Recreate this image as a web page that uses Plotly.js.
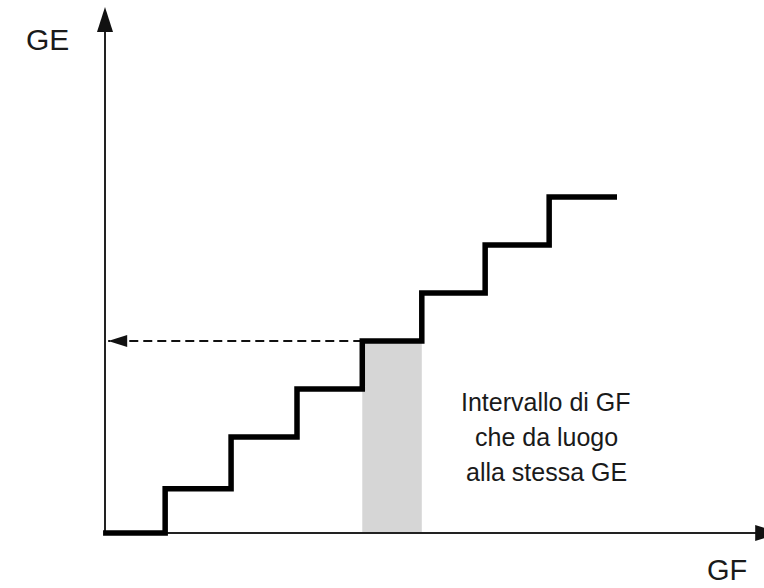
<!DOCTYPE html>
<html>
<head>
<meta charset="utf-8">
<script src="https://cdn.plot.ly/plotly-3.0.1.min.js"></script>
<style>
  html, body { margin: 0; padding: 0; background: #ffffff; }
  #chart { width: 764px; height: 588px; }
</style>
</head>
<body>
<div id="chart"></div>
<script>
// ---- data (arbitrary units) ----
const gfSteps  = [-0.03, 0.94, 1.97, 3.0, 4.02, 4.95, 5.94, 6.94, 8.0];   // GF breakpoints of the staircase
const geLevels = [0, 0.92, 2.0, 3.0, 4.0, 5.0, 6.0, 7.0, 7.0];            // GE level on each step
const highlightStep = 4;          // step whose GF interval is shaded
const gfAxisEnd = 10.55;          // tip of GF axis arrow
const geAxisEnd = 10.96;          // tip of GE axis arrow
const dashedArrowTip = 0.05;      // where the dashed read-off arrow ends on the GE axis
const axisLabels = ["GE", "GF"];
const noteLines = ["Intervallo di GF", "che da luogo", "alla stessa GE"];

// ---- build ----
const ink = "#111111";
const hiGF0 = gfSteps[highlightStep];
const hiGF1 = gfSteps[highlightStep + 1];
const hiGE  = geLevels[highlightStep];

const traces = [
  { // dashed read-off line
    x: [hiGF0, dashedArrowTip], y: [hiGE, hiGE],
    mode: "lines", line: { color: ink, width: 2, dash: "9px,5px" },
    hoverinfo: "skip", showlegend: false
  },
  { // staircase
    x: gfSteps, y: geLevels,
    mode: "lines", line: { color: "#000000", width: 5.5, shape: "hv" },
    hoverinfo: "skip", showlegend: false
  }
];

const shapes = [
  { type: "rect", xref: "x", yref: "y", x0: hiGF0, x1: hiGF1, y0: 0, y1: hiGE,
    fillcolor: "#d6d6d6", line: { width: 0 }, layer: "below" },
  { type: "line", xref: "x", yref: "y", x0: 0, x1: gfAxisEnd - 0.2, y0: 0, y1: 0,
    line: { color: "#222222", width: 2 }, layer: "below" },
  { type: "line", xref: "x", yref: "y", x0: 0, x1: 0, y0: 0, y1: geAxisEnd - 0.3,
    line: { color: "#222222", width: 2 }, layer: "below" },
  // arrowheads (pixel-sized, anchored at data tips)
  { type: "path", xref: "x", yref: "y", xsizemode: "pixel", ysizemode: "pixel",
    xanchor: 0, yanchor: geAxisEnd, path: "M0,0 L-8,-25 L8,-25 Z",
    fillcolor: ink, line: { width: 0 } },
  { type: "path", xref: "x", yref: "y", xsizemode: "pixel", ysizemode: "pixel",
    xanchor: gfAxisEnd, yanchor: 0, path: "M0,0 L-25,8 L-25,-8 Z",
    fillcolor: ink, line: { width: 0 } },
  { type: "path", xref: "x", yref: "y", xsizemode: "pixel", ysizemode: "pixel",
    xanchor: dashedArrowTip, yanchor: hiGE, path: "M0,0 L19,6 L19,-6 Z",
    fillcolor: ink, line: { width: 0 } }
];

const txtFont = { family: "'Liberation Sans', Arial, sans-serif", color: "#1a1a1a" };
const annotations = [
  { text: axisLabels[0], xref: "paper", yref: "paper", x: 47/764, y: 1 - 39/588,
    xanchor: "center", yanchor: "middle", showarrow: false, font: Object.assign({ size: 30 }, txtFont) },
  { text: axisLabels[1], xref: "paper", yref: "paper", x: 727/764, y: 0,
    xanchor: "center", yanchor: "bottom", showarrow: false, font: Object.assign({ size: 29 }, txtFont) }
];
const lineY = [402, 437, 472];
noteLines.forEach((t, i) => annotations.push({
  text: t, xref: "paper", yref: "paper", x: 546/764, y: 1 - lineY[i]/588,
  xanchor: "center", yanchor: "middle", showarrow: false, font: Object.assign({ size: 25 }, txtFont)
}));

const hiddenAxis = { showgrid: false, zeroline: false, showline: false, showticklabels: false, ticks: "", fixedrange: true };

const layout = {
  width: 764, height: 588,
  margin: { l: 0, r: 0, t: 0, b: 0, pad: 0 },
  paper_bgcolor: "#ffffff", plot_bgcolor: "#ffffff",
  xaxis: Object.assign({ range: [-105/64, 659/64] }, hiddenAxis),
  yaxis: Object.assign({ range: [-55/48, 533/48] }, hiddenAxis),
  shapes: shapes, annotations: annotations,
  showlegend: false, hovermode: false
};

Plotly.newPlot("chart", traces, layout, { staticPlot: true, displayModeBar: false });
</script>
</body>
</html>
